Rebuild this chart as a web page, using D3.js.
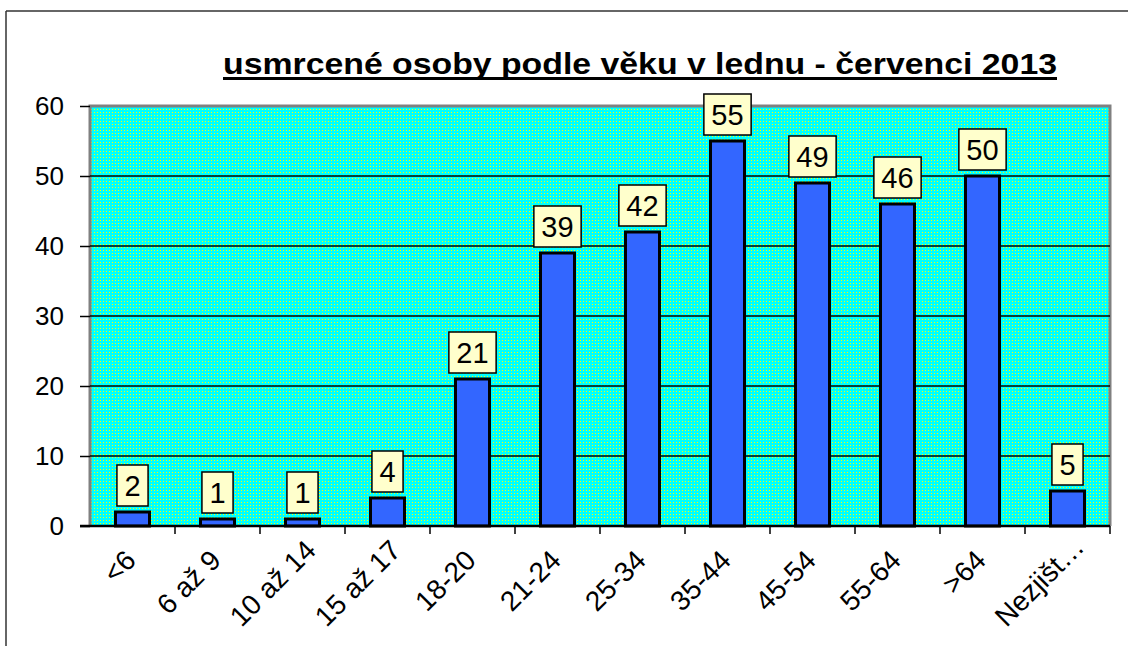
<!DOCTYPE html>
<html>
<head>
<meta charset="utf-8">
<script src="https://cdnjs.cloudflare.com/ajax/libs/d3/7.8.5/d3.min.js"></script>
<style>
  body { margin: 0; background: #fff; }
  svg text { font-family: "Liberation Sans", Arial, sans-serif; }
</style>
</head>
<body>
<svg id="chart" width="1128" height="646"></svg>
<script>
// data
const title = "usmrcené osoby podle věku v lednu - červenci 2013";
const categories = ["<6", "6 až 9", "10 až 14", "15 až 17", "18-20", "21-24",
                    "25-34", "35-44", "45-54", "55-64", ">64", "Nezjišt…"];
const killed = [2, 1, 1, 4, 21, 39, 42, 55, 49, 46, 50, 5];
const yTicks = [0, 10, 20, 30, 40, 50, 60];

const svg = d3.select("#chart");
const plot = {left: 90, right: 1110, top: 106, bottom: 526};

// cyan background with yellow dots
const defs = svg.append("defs");
const pat = defs.append("pattern")
    .attr("id", "dots").attr("patternUnits", "userSpaceOnUse")
    .attr("width", 3).attr("height", 3);
pat.append("rect").attr("width", 3).attr("height", 3).attr("fill", "#00ffff");
pat.append("rect").attr("x", 1).attr("y", 1).attr("width", 1).attr("height", 1).attr("fill", "#ffff00");

// outer frame (only top and left visible)
svg.append("line").attr("x1", 6).attr("x2", 1128).attr("y1", 11).attr("y2", 11)
    .attr("stroke", "#333").attr("stroke-width", 1.5);
svg.append("line").attr("x1", 6).attr("x2", 6).attr("y1", 11).attr("y2", 646)
    .attr("stroke", "#333").attr("stroke-width", 1.5);

const x = d3.scaleBand().domain(categories)
    .range([plot.left, plot.right]).paddingInner(0.6).paddingOuter(0.3);
const y = d3.scaleLinear().domain([0, 60]).range([plot.bottom, plot.top]);

// plot area
svg.append("rect")
    .attr("x", plot.left).attr("y", plot.top)
    .attr("width", plot.right - plot.left).attr("height", plot.bottom - plot.top)
    .attr("fill", "url(#dots)");
svg.append("path")
    .attr("d", `M${plot.left},${plot.bottom} V${plot.top} H${plot.right} V${plot.bottom}`)
    .attr("fill", "none").attr("stroke", "#808080").attr("stroke-width", 3);

// gridlines
svg.append("g").selectAll("line")
    .data(yTicks.filter(d => d > 0 && d < 60))
    .join("line")
    .attr("x1", plot.left).attr("x2", plot.right)
    .attr("y1", d => y(d)).attr("y2", d => y(d))
    .attr("stroke", "#000").attr("stroke-width", 1.5);

// y axis
const yAxis = svg.append("g")
    .attr("transform", `translate(${plot.left},0)`)
    .call(d3.axisLeft(y).tickValues(yTicks).tickSize(10).tickPadding(16));
yAxis.select(".domain").remove();
yAxis.selectAll(".tick line").attr("stroke", "#000").attr("stroke-width", 1.5);
yAxis.selectAll(".tick text").attr("font-size", 26).attr("fill", "#000")
    .style("font-family", "'Liberation Sans', Arial, sans-serif");

// bars
svg.append("g").selectAll("rect")
    .data(killed)
    .join("rect")
    .attr("x", (d, i) => x(categories[i]))
    .attr("y", d => y(d))
    .attr("width", x.bandwidth())
    .attr("height", d => y(0) - y(d))
    .attr("fill", "#3366ff")
    .attr("stroke", "#000").attr("stroke-width", 3);

// x axis line and ticks between categories
svg.append("line")
    .attr("x1", plot.left - 10).attr("x2", plot.right)
    .attr("y1", plot.bottom).attr("y2", plot.bottom)
    .attr("stroke", "#000").attr("stroke-width", 2.5);
const step = x.step();
svg.append("g").selectAll("line")
    .data(d3.range(1, categories.length + 1))
    .join("line")
    .attr("x1", i => plot.left + i * step).attr("x2", i => plot.left + i * step)
    .attr("y1", plot.bottom).attr("y2", plot.bottom + 8)
    .attr("stroke", "#000").attr("stroke-width", 1.5);

// rotated category labels
const xl = svg.append("g").selectAll("text")
    .data(categories)
    .join("text")
    .attr("text-anchor", "end")
    .attr("font-size", 28)
    .attr("fill", "#000")
    .text(d => d);
xl.each(function(d) {
    const len = this.getComputedTextLength();
    let px = x(d) + x.bandwidth() / 2 + 5, py = 562;
    // pull long labels up so they stay inside the chart
    const over = py + len * Math.SQRT1_2 - 628;
    if (over > 0) { px += over; py -= over; }
    d3.select(this).attr("transform", `translate(${px},${py}) rotate(-45)`);
});

// value labels in boxes
const lab = svg.append("g").selectAll("g")
    .data(killed)
    .join("g");
lab.each(function(d, i) {
    const g = d3.select(this);
    const cx = x(categories[i]) + x.bandwidth() / 2;
    const bottom = y(d) - 6;
    const t = g.append("text")
        .attr("x", cx).attr("y", bottom - 10)
        .attr("text-anchor", "middle").attr("font-size", 29).attr("fill", "#000")
        .text(d);
    const w = t.node().getComputedTextLength() + 15;
    g.insert("rect", "text")
        .attr("x", cx - w / 2).attr("y", bottom - 41)
        .attr("width", w).attr("height", 41)
        .attr("fill", "#ffffcc").attr("stroke", "#000").attr("stroke-width", 1.5);
});

// title, underlined
const titleW = 834;
svg.append("text")
    .attr("x", 640).attr("y", 74)
    .attr("text-anchor", "middle")
    .attr("font-size", 30).attr("font-weight", "bold").attr("fill", "#000")
    .attr("textLength", titleW).attr("lengthAdjust", "spacingAndGlyphs")
    .text(title);
svg.append("rect")
    .attr("x", 640 - titleW / 2).attr("y", 77)
    .attr("width", titleW).attr("height", 3)
    .attr("fill", "#000");
</script>
</body>
</html>
